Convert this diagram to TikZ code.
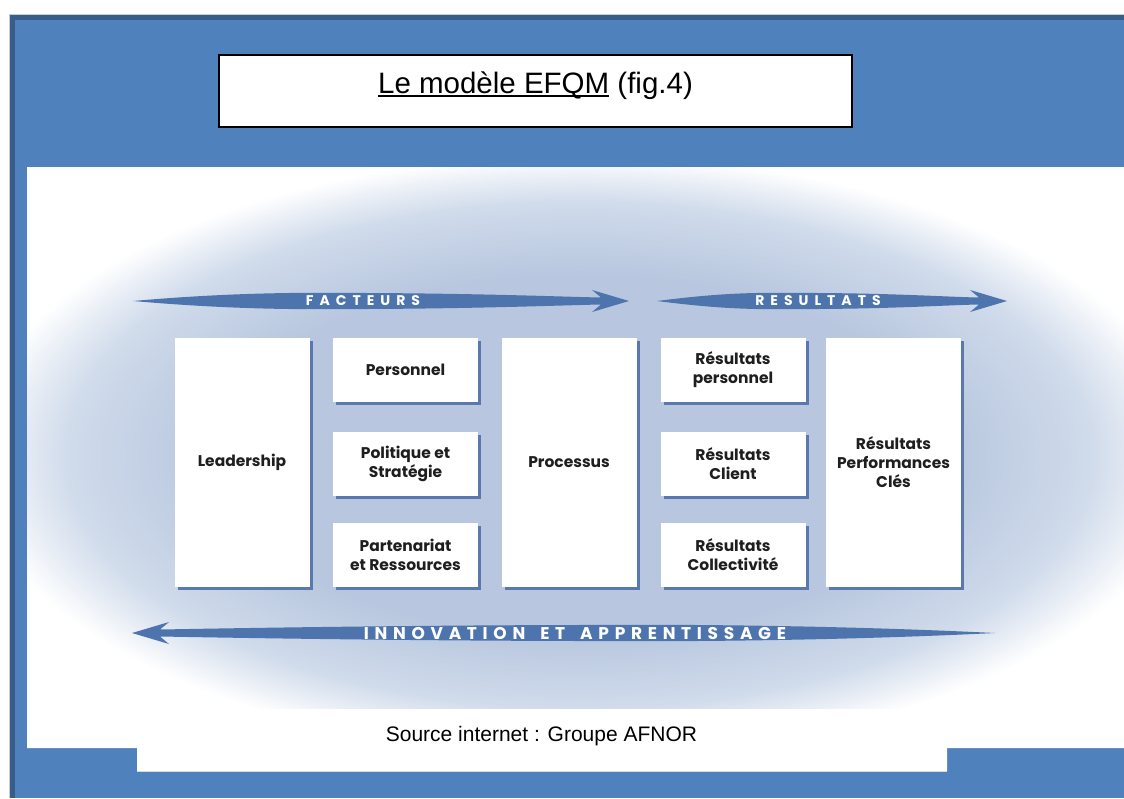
\documentclass[tikz,border=0pt]{standalone}
\usepackage{fontspec}
\setmainfont{Liberation Sans}
\newfontfamily\boxfont{Poppins}
\usetikzlibrary{shadows}
\definecolor{frameblue}{HTML}{4F81BD}
\definecolor{framedark}{HTML}{385D8A}
\definecolor{arrowblue}{HTML}{4E74AD}
\definecolor{shadowblue}{HTML}{5878AE}
\definecolor{glowA}{HTML}{B8C7DF}
\definecolor{glowB}{HTML}{D0DBEB}
\definecolor{boxtext}{HTML}{1E1E1E}
\pgfdeclareradialshading{glow}{\pgfpoint{0bp}{0bp}}{color(0bp)=(glowA); color(15bp)=(glowA); color(21bp)=(glowB); color(25bp)=(white); color(50bp)=(white)}

\makeatletter
\newlength\trkamount
\setlength\trkamount{6pt}
\def\trk#1{\trk@#1\@nil}
\def\trk@#1#2\@nil{#1\ifx\relax#2\relax\else\kern\trkamount\trk@#2\@nil\fi}
\makeatother

\newcommand\ulbar[1]{\setbox0\hbox{#1}\rlap{\rule[-4pt]{\wd0}{2pt}}\copy0\relax}

\newcommand\efqmarrow[3]{% tail x, tip x, y (pointing right)
  \pgfmathsetmacro\ah{#2-37}%
  \pgfmathsetmacro\an{#2-28}%
  \pgfmathsetmacro\aq{#1+0.22*(\an-#1)}%
  \pgfmathsetmacro\am{#1+0.5*(\an-#1)}%
  \pgfmathsetmacro\ar{#1+0.75*(\an-#1)}%
  \fill[arrowblue] (#1,#3) .. controls ({\aq},{#3-9}) and ({\am-60},{#3-8.5}) .. ({\am},{#3-8})
    .. controls ({\ar},{#3-7.5}) and ({\an-30},{#3-4}) .. ({\an},{#3-3.5})
    -- ({\ah},{#3-11}) -- (#2,#3) -- ({\ah},{#3+11}) -- ({\an},{#3+3.5})
    .. controls ({\an-30},{#3+4}) and ({\ar},{#3+7.5}) .. ({\am},{#3+8})
    .. controls ({\am-60},{#3+8.5}) and ({\aq},{#3+9}) .. (#1,#3) -- cycle;
}

\begin{document}
\begin{tikzpicture}[x=1pt,y=-1pt,
  efqmbox/.style={fill=white, inner sep=0pt, align=center, text=boxtext,
    font=\boxfont\bfseries\fontsize{15.5}{19}\selectfont,
    general shadow={fill=shadowblue, shadow xshift=3pt, shadow yshift=-3pt}},
  tallbox/.style={minimum width=135pt, minimum height=249pt},
  smallbox/.style={minimum width=145pt, minimum height=64pt},
  arrowlabel/.style={text=white, font=\boxfont\bfseries\fontsize{14}{14}\selectfont, inner sep=0pt},
  biglabel/.style={text=white, font=\boxfont\bfseries\fontsize{17}{17}\selectfont, inner sep=0pt}]
\useasboundingbox (0,0) rectangle (1124,798);
% frame
\fill[frameblue] (10,15) rectangle (1124,798);
\fill[framedark] (10,15) rectangle (15,798);
\fill[framedark] (10,15) rectangle (1124,20);
\draw[black!20, line width=1pt] (9.5,798) -- (9.5,14.5) -- (1124,14.5);
\fill[white] (27,167) -- (1124,167) -- (1124,748) -- (947,748) -- (947,771) -- (137,771) -- (137,748) -- (27,748) -- cycle;
\draw[black!15, line width=1pt] (137,771) -- (947,771);
% glow
\begin{scope}
  \clip (27,167) rectangle (1124,708);
  \shade[shading=glow] (580,455) ellipse [x radius=610, y radius=300];
\end{scope}
% title
\node[draw=black, line width=2pt, fill=white, minimum width=633pt, minimum height=72pt, inner sep=0pt] (title) at (535.5,91) {};
\node[anchor=base, font=\fontsize{29.5}{34}\selectfont, inner sep=0pt] (titletext) at (535.5,93) {\ulbar{Le modèle EFQM} (fig.4)};
% arrows
\efqmarrow{133}{629}{301}
\node[arrowlabel] (facteurs) at (363,301) {\trk{FACTEURS}};
\efqmarrow{657}{1007}{301}
\node[arrowlabel] (resultats) at (818,301) {\trk{RESULTATS}};
\begin{scope}[shift={(1127,0)}, xscale=-1]
  \efqmarrow{132}{995}{633}
\end{scope}
\setlength\trkamount{5.7pt}
\node[biglabel] (innovation) at (575,633) {\trk{INNOVATION}\hspace{15pt}\trk{ET}\hspace{15pt}\trk{APPRENTISSAGE}};
% boxes
\node[efqmbox, tallbox] (leadership) at (242,462.5) {Leadership};
\node[efqmbox, smallbox] (personnel) at (405.5,370) {Personnel};
\node[efqmbox, smallbox] (politique) at (405.5,463.5) {Politique et\\Stratégie};
\node[efqmbox, smallbox] (partenariat) at (405.5,555) {Partenariat\\et Ressources};
\node[efqmbox, tallbox] (processus) at (569,462.5) {Processus};
\node[efqmbox, smallbox] (rpersonnel) at (733,370) {Résultats\\personnel};
\node[efqmbox, smallbox] (rclient) at (733,463.5) {Résultats\\Client};
\node[efqmbox, smallbox] (rcollectivite) at (733,555) {Résultats\\Collectivité};
\node[efqmbox, tallbox] (rperformances) at (893.5,462.5) {Résultats\\Performances\\Clés};
% source
\node[anchor=base, font=\fontsize{21}{25}\selectfont, inner sep=0pt] (source) at (541.5,741) {Source internet : Groupe AFNOR};
\end{tikzpicture}
\end{document}
